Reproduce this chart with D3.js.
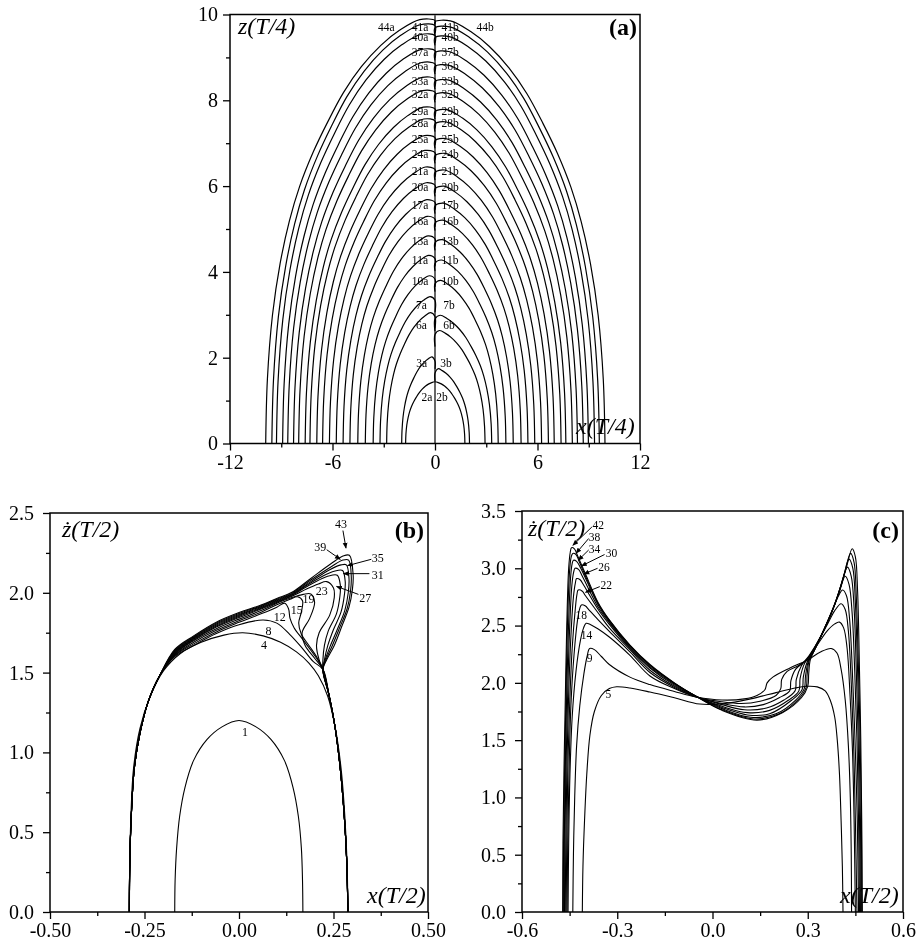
<!DOCTYPE html>
<html><head><meta charset="utf-8">
<script src="https://cdn.jsdelivr.net/npm/d3@7/dist/d3.min.js"></script>
<style>
body{margin:0;background:#fff;}
#chart{filter:grayscale(100%);}
text{font-family:"Liberation Serif","Times New Roman",serif;fill:#000;}
</style></head><body>
<svg id="chart" width="923" height="947" xmlns="http://www.w3.org/2000/svg"></svg>
<script>
// ---------------- Panel (a) data ----------------
const aXTicks = [-12, -6, 0, 6, 12];
const aXTickLabels = ["-12", "-6", "0", "6", "12"];
const aXMinor = [-9, -3, 3, 9];
const aYTicks = [0, 2, 4, 6, 8, 10];
const aYTickLabels = ["0", "2", "4", "6", "8", "10"];
const aYMinor = [1, 3, 5, 7, 9];
const aArchIds   = [2, 3, 6, 7, 10, 11, 13, 16, 17, 20, 21, 24, 25, 28, 29, 32, 33, 36, 37, 40, 41, 44];
const aBaseLeft  = [1.72, 1.95, 2.83, 3.22, 3.62, 4.08, 4.52, 4.98, 5.38, 5.78, 6.18, 6.58, 6.92, 7.32, 7.60, 7.98, 8.28, 8.62, 8.92, 9.28, 9.55, 9.91];
const aBaseRight = [1.75, 2.02, 2.93, 3.32, 3.70, 4.15, 4.58, 5.04, 5.44, 5.84, 6.24, 6.64, 6.98, 7.38, 7.66, 8.04, 8.34, 8.68, 8.98, 9.34, 9.62, 9.95];
const aTopLeft   = [1.44, 2.04, 3.08, 3.46, 3.95, 4.43, 4.89, 5.35, 5.74, 6.14, 6.51, 6.90, 7.25, 7.64, 7.92, 8.31, 8.62, 8.97, 9.28, 9.63, 9.86, 9.98];
const aTopRight  = [1.44, 1.76, 2.66, 3.02, 3.84, 4.32, 4.80, 5.26, 5.66, 6.06, 6.44, 6.83, 7.18, 7.57, 7.86, 8.25, 8.56, 8.91, 9.23, 9.58, 9.81, 9.95];
const aHook      = [0, 0.3, 0.4, 0.4, 0.3, 0.3, 0.3, 0.3, 0.3, 0.3, 0.3, 0.3, 0.3, 0.3, 0.3, 0.3, 0.3, 0.3, 0.3, 0.3, 0.3, 0.2];
// normalised arch profile (|x|/w, z/h)
const aProfileU = [1, 0.99, 0.96, 0.915, 0.86, 0.80, 0.72, 0.635, 0.54, 0.435, 0.32, 0.21, 0.09];
const aProfileV = [0, 0.15, 0.30, 0.42, 0.52, 0.60, 0.68, 0.75, 0.82, 0.88, 0.93, 0.965, 0.99];
const aLabelZ   = [1.09, 1.87, 2.77, 3.24, 3.78, 4.27, 4.73, 5.18, 5.57, 5.98, 6.35, 6.74, 7.09, 7.48, 7.75, 8.14, 8.45, 8.80, 9.12, 9.47, 9.71, 9.71];
const aLabelXL  = [-0.47, -0.78, -0.8, -0.8, -0.88, -0.88, -0.88, -0.88, -0.88, -0.88, -0.88, -0.88, -0.88, -0.88, -0.88, -0.88, -0.88, -0.88, -0.88, -0.88, -0.88, -2.85];
const aLabelXR  = [0.41, 0.65, 0.82, 0.82, 0.88, 0.88, 0.88, 0.88, 0.88, 0.88, 0.88, 0.88, 0.88, 0.88, 0.88, 0.88, 0.88, 0.88, 0.88, 0.88, 0.88, 2.93];

// ---------------- Panel (b) data ----------------
const bXTicks = [-0.5, -0.25, 0, 0.25, 0.5];
const bXTickLabels = ["-0.50", "-0.25", "0.00", "0.25", "0.50"];
const bXMinor = [-0.375, -0.125, 0.125, 0.375];
const bYTicks = [0, 0.5, 1.0, 1.5, 2.0, 2.5];
const bYTickLabels = ["0.0", "0.5", "1.0", "1.5", "2.0", "2.5"];
const bYMinor = [0.25, 0.75, 1.25, 1.75, 2.25];
const bLeftLeg  = [[-0.29,0],[-0.289,0.3],[-0.285,0.6],[-0.277,0.9],[-0.262,1.12],[-0.24,1.32],[-0.21,1.48]];
const bRightLeg = [[0.222,1.52],[0.238,1.36],[0.254,1.16],[0.267,0.92],[0.278,0.62],[0.285,0.32],[0.288,0]];
const b01 = [[-0.17,0],[-0.169,0.2],[-0.165,0.4],[-0.157,0.6],[-0.143,0.78],[-0.12,0.95],[-0.085,1.08],[-0.045,1.16],[0,1.2],[0.045,1.16],[0.085,1.08],[0.12,0.95],[0.143,0.78],[0.157,0.6],[0.165,0.4],[0.168,0.2],[0.169,0]];
const b04 = [[-0.29,0],[-0.289,0.3],[-0.286,0.6],[-0.279,0.9],[-0.262,1.15],[-0.235,1.35],[-0.2,1.51],[-0.155,1.62],[-0.1,1.69],[-0.04,1.735],[0.01,1.75],[0.064,1.73],[0.11,1.69],[0.152,1.63],[0.185,1.56],[0.21,1.48],[0.235,1.35],[0.255,1.15],[0.27,0.9],[0.28,0.6],[0.286,0.3],[0.288,0]];
const b08 = [[-0.17,1.600],[-0.12,1.670],[-0.06,1.745],[0,1.800],[0.064,1.83],[0.1,1.81],[0.134,1.74],[0.165,1.66],[0.196,1.57]];
const b12 = [[-0.17,1.605],[-0.12,1.680],[-0.06,1.755],[0,1.815],[0.06,1.87],[0.1,1.91],[0.121,1.935],[0.131,1.9],[0.135,1.84],[0.146,1.78],[0.168,1.71],[0.19,1.64],[0.208,1.58]];
const b15 = [[-0.17,1.610],[-0.12,1.690],[-0.06,1.765],[0,1.825],[0.06,1.88],[0.1,1.925],[0.135,1.96],[0.155,1.975],[0.168,1.95],[0.165,1.88],[0.158,1.81],[0.165,1.74],[0.185,1.67],[0.205,1.6]];
const b19 = [[-0.17,1.615],[-0.12,1.700],[-0.06,1.775],[0,1.835],[0.06,1.89],[0.1,1.935],[0.14,1.97],[0.17,1.99],[0.19,1.993],[0.2,1.94],[0.187,1.84],[0.167,1.75],[0.175,1.67],[0.2,1.59]];
const b23 = [[-0.17,1.620],[-0.12,1.705],[-0.06,1.785],[0,1.845],[0.06,1.9],[0.1,1.94],[0.14,1.978],[0.18,2.025],[0.21,2.055],[0.232,2.07],[0.25,2.03],[0.252,1.97],[0.24,1.86],[0.212,1.75],[0.205,1.67],[0.212,1.58]];
const b27 = [[-0.17,1.625],[-0.12,1.710],[-0.06,1.792],[0,1.852],[0.06,1.905],[0.1,1.945],[0.14,1.983],[0.18,2.04],[0.22,2.09],[0.245,2.11],[0.26,2.11],[0.268,2.05],[0.267,1.98],[0.258,1.87],[0.236,1.76],[0.226,1.67],[0.222,1.58]];
const b31 = [[-0.17,1.630],[-0.12,1.715],[-0.06,1.798],[0,1.858],[0.06,1.91],[0.1,1.95],[0.14,1.988],[0.185,2.055],[0.23,2.115],[0.26,2.14],[0.274,2.14],[0.281,2.07],[0.279,1.99],[0.27,1.88],[0.25,1.77],[0.235,1.67],[0.226,1.58]];
const b35 = [[-0.17,1.635],[-0.12,1.720],[-0.06,1.804],[0,1.864],[0.06,1.915],[0.1,1.955],[0.14,1.993],[0.19,2.07],[0.24,2.145],[0.27,2.175],[0.284,2.175],[0.291,2.09],[0.289,2.0],[0.28,1.89],[0.26,1.77],[0.242,1.67],[0.228,1.58]];
const b39 = [[-0.17,1.640],[-0.12,1.725],[-0.06,1.810],[0,1.870],[0.06,1.92],[0.1,1.96],[0.14,1.998],[0.19,2.08],[0.245,2.165],[0.275,2.205],[0.29,2.205],[0.297,2.1],[0.295,2.01],[0.286,1.9],[0.266,1.78],[0.247,1.67],[0.23,1.58]];
const b43 = [[-0.17,1.645],[-0.12,1.730],[-0.06,1.816],[0,1.876],[0.06,1.925],[0.1,1.965],[0.14,2.003],[0.19,2.09],[0.245,2.185],[0.275,2.23],[0.292,2.235],[0.302,2.11],[0.3,2.02],[0.291,1.91],[0.272,1.79],[0.252,1.67],[0.232,1.58]];
const bLabels = [["1",0.016,1.13],["4",0.066,1.67],["8",0.078,1.76],["12",0.108,1.85],["15",0.153,1.89],["19",0.184,1.96],["23",0.219,2.01]];
const bArrowLabels = [["27",0.334,1.97,0.316,1.99,0.258,2.04],["31",0.367,2.11,0.345,2.12,0.276,2.12],["35",0.367,2.22,0.35,2.21,0.287,2.17],["39",0.215,2.29,0.232,2.27,0.268,2.21],["43",0.27,2.43,0.275,2.39,0.283,2.28]];

// ---------------- Panel (c) data ----------------
const cXTicks = [-0.6, -0.3, 0, 0.3, 0.6];
const cXTickLabels = ["-0.6", "-0.3", "0.0", "0.3", "0.6"];
const cXMinor = [-0.45, -0.15, 0.15, 0.45];
const cYTicks = [0, 0.5, 1.0, 1.5, 2.0, 2.5, 3.0, 3.5];
const cYTickLabels = ["0.0", "0.5", "1.0", "1.5", "2.0", "2.5", "3.0", "3.5"];
const cYMinor = [0.25, 0.75, 1.25, 1.75, 2.25, 2.75, 3.25];
const c05 = [[-0.41,0],[-0.408,0.4],[-0.403,0.8],[-0.396,1.2],[-0.386,1.545],[-0.372,1.75],[-0.35,1.89],[-0.325,1.95],[-0.302,1.966],[-0.26,1.955],[-0.197,1.92],[-0.12,1.87],[-0.04,1.815],[0.04,1.82],[0.12,1.86],[0.2,1.915],[0.26,1.955],[0.296,1.97],[0.33,1.965],[0.355,1.93],[0.372,1.84],[0.385,1.7],[0.393,1.5],[0.4,1.2],[0.405,0.8],[0.409,0.4],[0.411,0]];
const c09 = [[-0.44,0],[-0.438,0.5],[-0.434,1.0],[-0.428,1.45],[-0.418,1.8],[-0.405,2.08],[-0.395,2.23],[-0.387,2.30],[-0.372,2.29],[-0.35,2.23],[-0.325,2.16],[-0.26,2.05],[-0.197,1.985],[-0.12,1.925],[-0.05,1.876],[0.03,1.85],[0.1,1.86],[0.14,1.89],[0.165,1.94],[0.172,2.0],[0.19,2.05],[0.244,2.13],[0.3,2.2],[0.34,2.27],[0.374,2.30],[0.392,2.26],[0.405,2.12],[0.418,1.85],[0.428,1.45],[0.434,1.0],[0.437,0.5],[0.438,0]];
const c14 = [[-0.455,0],[-0.453,0.6],[-0.449,1.2],[-0.442,1.7],[-0.43,2.1],[-0.416,2.37],[-0.406,2.48],[-0.398,2.52],[-0.385,2.51],[-0.36,2.47],[-0.325,2.40],[-0.26,2.24],[-0.197,2.06],[-0.12,1.95],[-0.05,1.875],[0.03,1.835],[0.09,1.82],[0.15,1.84],[0.2,1.89],[0.215,1.95],[0.218,2.03],[0.235,2.1],[0.27,2.15],[0.3,2.21],[0.33,2.33],[0.36,2.45],[0.385,2.515],[0.40,2.53],[0.413,2.48],[0.424,2.3],[0.433,1.9],[0.441,1.4],[0.446,0.8],[0.45,0]];
const c18 = [[-0.458,0],[-0.456,0.6],[-0.452,1.2],[-0.446,1.8],[-0.436,2.25],[-0.425,2.55],[-0.418,2.65],[-0.413,2.68],[-0.4,2.67],[-0.39,2.64],[-0.36,2.55],[-0.325,2.45],[-0.26,2.27],[-0.197,2.09],[-0.12,1.96],[-0.05,1.877],[0.03,1.82],[0.1,1.79],[0.16,1.81],[0.21,1.87],[0.243,1.93],[0.247,2.02],[0.262,2.12],[0.296,2.2],[0.33,2.35],[0.36,2.5],[0.385,2.63],[0.405,2.69],[0.418,2.64],[0.428,2.45],[0.437,2.0],[0.445,1.4],[0.45,0.8],[0.455,0]];
const c22 = [[-0.461,0],[-0.459,0.6],[-0.456,1.2],[-0.45,1.8],[-0.442,2.3],[-0.432,2.65],[-0.427,2.77],[-0.423,2.81],[-0.41,2.8],[-0.4,2.76],[-0.36,2.61],[-0.325,2.48],[-0.26,2.29],[-0.197,2.11],[-0.12,1.97],[-0.05,1.878],[0.03,1.81],[0.1,1.765],[0.17,1.78],[0.225,1.85],[0.26,1.93],[0.264,2.03],[0.28,2.15],[0.305,2.24],[0.34,2.4],[0.37,2.58],[0.395,2.75],[0.41,2.81],[0.422,2.76],[0.432,2.55],[0.442,2.0],[0.45,1.4],[0.456,0.8],[0.46,0]];
const c26 = [[-0.464,0],[-0.462,0.6],[-0.459,1.2],[-0.454,1.8],[-0.447,2.35],[-0.438,2.75],[-0.432,2.87],[-0.428,2.91],[-0.417,2.9],[-0.405,2.85],[-0.36,2.64],[-0.325,2.51],[-0.26,2.30],[-0.197,2.13],[-0.12,1.98],[-0.05,1.879],[0.03,1.795],[0.11,1.74],[0.18,1.76],[0.24,1.85],[0.272,1.93],[0.276,2.04],[0.29,2.17],[0.31,2.25],[0.345,2.43],[0.375,2.62],[0.4,2.8],[0.418,2.93],[0.43,2.86],[0.44,2.6],[0.448,2.1],[0.455,1.5],[0.46,0.8],[0.463,0]];
const c30 = [[-0.466,0],[-0.465,0.6],[-0.462,1.2],[-0.457,1.8],[-0.451,2.4],[-0.443,2.85],[-0.437,2.97],[-0.433,3.0],[-0.422,2.99],[-0.41,2.93],[-0.36,2.66],[-0.325,2.525],[-0.26,2.31],[-0.197,2.14],[-0.12,1.99],[-0.05,1.88],[0.03,1.785],[0.11,1.72],[0.18,1.73],[0.25,1.85],[0.282,1.94],[0.286,2.05],[0.298,2.18],[0.315,2.26],[0.35,2.46],[0.38,2.65],[0.405,2.85],[0.425,3.01],[0.437,2.93],[0.446,2.65],[0.453,2.1],[0.459,1.5],[0.463,0.8],[0.466,0]];
const c34 = [[-0.468,0],[-0.467,0.6],[-0.464,1.2],[-0.46,1.8],[-0.454,2.45],[-0.447,2.92],[-0.442,3.04],[-0.438,3.07],[-0.428,3.06],[-0.415,3.0],[-0.36,2.68],[-0.325,2.535],[-0.26,2.32],[-0.197,2.15],[-0.12,1.995],[-0.05,1.88],[0.03,1.775],[0.12,1.70],[0.2,1.73],[0.262,1.85],[0.289,1.95],[0.293,2.06],[0.302,2.19],[0.318,2.27],[0.352,2.47],[0.383,2.67],[0.41,2.9],[0.43,3.08],[0.442,3.0],[0.45,2.7],[0.457,2.1],[0.462,1.5],[0.466,0.8],[0.468,0]];
const c38 = [[-0.47,0],[-0.469,0.6],[-0.466,1.2],[-0.462,1.8],[-0.457,2.5],[-0.45,2.98],[-0.445,3.1],[-0.44,3.13],[-0.43,3.12],[-0.42,3.06],[-0.36,2.69],[-0.325,2.545],[-0.26,2.325],[-0.197,2.155],[-0.12,1.998],[-0.05,1.88],[0.03,1.765],[0.13,1.685],[0.21,1.73],[0.272,1.86],[0.295,1.96],[0.298,2.07],[0.305,2.2],[0.32,2.28],[0.354,2.48],[0.386,2.69],[0.415,2.95],[0.435,3.13],[0.446,3.05],[0.453,2.75],[0.46,2.1],[0.465,1.5],[0.469,0.8],[0.47,0]];
const c42 = [[-0.472,0],[-0.471,0.6],[-0.468,1.2],[-0.464,1.8],[-0.459,2.5],[-0.453,3.0],[-0.448,3.14],[-0.444,3.18],[-0.435,3.17],[-0.425,3.11],[-0.4,2.95],[-0.36,2.70],[-0.325,2.55],[-0.26,2.33],[-0.197,2.16],[-0.12,2.0],[-0.05,1.88],[0.03,1.76],[0.14,1.675],[0.22,1.74],[0.28,1.87],[0.3,1.97],[0.303,2.08],[0.308,2.2],[0.322,2.29],[0.356,2.49],[0.39,2.72],[0.42,2.99],[0.44,3.17],[0.45,3.1],[0.457,2.8],[0.463,2.1],[0.467,1.5],[0.47,0.8],[0.472,0]];
const cLabels = [["5",-0.328,1.90],["9",-0.387,2.22],["14",-0.397,2.42],["18",-0.413,2.59]];
const cLeaderLabels = [["22",-0.335,2.85,-0.355,2.84,-0.40,2.79],["26",-0.342,3.01,-0.362,3.0,-0.405,2.95],["30",-0.318,3.13,-0.34,3.12,-0.413,3.02],["34",-0.372,3.17,-0.39,3.16,-0.423,3.07],["38",-0.372,3.27,-0.39,3.26,-0.43,3.13],["42",-0.36,3.38,-0.38,3.36,-0.44,3.2]];

// ---------------- drawing ----------------
const svg = d3.select("#chart");
const FONT = "'Liberation Serif','Times New Roman',serif";

function makePanel(o) {
  const x = d3.scaleLinear().domain(o.xd).range([o.l, o.r]);
  const y = d3.scaleLinear().domain(o.yd).range([o.b, o.t]);
  const g = svg.append("g");
  const ax = g.append("g").attr("transform", `translate(0,${o.b})`)
    .call(d3.axisBottom(x).tickValues(o.xt).tickFormat((d, i) => o.xl[i]).tickSize(7).tickPadding(4));
  const axm = g.append("g").attr("transform", `translate(0,${o.b})`)
    .call(d3.axisBottom(x).tickValues(o.xm).tickFormat("").tickSize(4));
  const ay = g.append("g").attr("transform", `translate(${o.l},0)`)
    .call(d3.axisLeft(y).tickValues(o.yt).tickFormat((d, i) => o.yl[i]).tickSize(7).tickPadding(o.yp));
  const aym = g.append("g").attr("transform", `translate(${o.l},0)`)
    .call(d3.axisLeft(y).tickValues(o.ym).tickFormat("").tickSize(4));
  [ax, axm, ay, aym].forEach(a => {
    a.select(".domain").remove();
    a.attr("font-family", FONT).attr("font-size", 20);
    a.selectAll("line").attr("stroke", "#000").attr("stroke-width", 1.3);
    a.selectAll("text").attr("fill", "#000");
  });
  g.append("rect").attr("x", o.l).attr("y", o.t).attr("width", o.r - o.l).attr("height", o.b - o.t)
    .attr("fill", "none").attr("stroke", "#000").attr("stroke-width", 1.5);
  return {x, y, g};
}

const lineStyle = (sel, w) => sel.attr("fill", "none").attr("stroke", "#000").attr("stroke-width", w).attr("stroke-linejoin", "round");

// ----- Panel (a)
const A = makePanel({l: 230, r: 640, t: 14.5, b: 443.5, xd: [-12, 12], yd: [0, 10],
  xt: aXTicks, xl: aXTickLabels, xm: aXMinor, yt: aYTicks, yl: aYTickLabels, ym: aYMinor, yp: 5});
const lineA = d3.line().x(d => A.x(d[0])).y(d => A.y(d[1])).curve(d3.curveCatmullRom.alpha(0.5));
aArchIds.forEach((id, i) => {
  const left = aProfileU.map((u, k) => [-u * aBaseLeft[i], aProfileV[k] * aTopLeft[i]]);
  const right = aProfileU.map((u, k) => [u * aBaseRight[i], aProfileV[k] * aTopRight[i]]).reverse();
  if (aHook[i] > 0) {
    left.push([0, aTopLeft[i] - 0.12], [0, aTopLeft[i] - aHook[i]]);
    right.unshift([0, aTopRight[i] - aHook[i]], [0, aTopRight[i] - 0.12]);
  } else {
    left.push([0, aTopLeft[i]]);
    right.unshift([0, aTopRight[i]]);
  }
  lineStyle(A.g.append("path").attr("d", lineA(left)), 1.2);
  lineStyle(A.g.append("path").attr("d", lineA(right)), 1.2);
  A.g.append("text").attr("x", A.x(aLabelXL[i])).attr("y", A.y(aLabelZ[i])).attr("text-anchor", "middle")
    .attr("dominant-baseline", "central").attr("font-size", 11.5).text(id + "a");
  A.g.append("text").attr("x", A.x(aLabelXR[i])).attr("y", A.y(aLabelZ[i])).attr("text-anchor", "middle")
    .attr("dominant-baseline", "central").attr("font-size", 11.5).text(id + "b");
});
lineStyle(A.g.append("path").attr("d", d3.line()([[A.x(0), A.y(0)], [A.x(0), A.y(9.98)]])), 1.2);
A.g.append("text").attr("x", 238).attr("y", 34).attr("font-size", 24).attr("font-style", "italic").text("z(T/4)");
A.g.append("text").attr("x", 576).attr("y", 434).attr("font-size", 24).attr("font-style", "italic").text("x(T/4)");
A.g.append("text").attr("x", 637).attr("y", 35).attr("text-anchor", "end").attr("font-size", 24).attr("font-weight", "bold").text("(a)");

// arrow marker
const defs = svg.append("defs");
defs.append("marker").attr("id", "arr").attr("viewBox", "0 0 10 10").attr("refX", 9).attr("refY", 5)
  .attr("markerWidth", 6).attr("markerHeight", 6).attr("orient", "auto-start-reverse")
  .append("path").attr("d", "M0,1L10,5L0,9z").attr("fill", "#000");

// ----- Panel (b)
const B = makePanel({l: 50, r: 428, t: 513, b: 912, xd: [-0.5, 0.5], yd: [0, 2.5],
  xt: bXTicks, xl: bXTickLabels, xm: bXMinor, yt: bYTicks, yl: bYTickLabels, ym: bYMinor, yp: 9});
const lineB = d3.line().x(d => B.x(d[0])).y(d => B.y(d[1])).curve(d3.curveCatmullRom.alpha(0.5));
[b01, b04].forEach(c => lineStyle(B.g.append("path").attr("d", lineB(c)), 1.1));
[b08, b12, b15, b19, b23, b27, b31, b35, b39, b43].forEach(c =>
  lineStyle(B.g.append("path").attr("d", lineB(bLeftLeg.concat(c, bRightLeg))), 1.1));
bLabels.forEach(l => B.g.append("text").attr("x", B.x(l[1])).attr("y", B.y(l[2])).attr("text-anchor", "middle")
  .attr("dominant-baseline", "central").attr("font-size", 12).text(l[0]));
bArrowLabels.forEach(l => {
  B.g.append("text").attr("x", B.x(l[1])).attr("y", B.y(l[2])).attr("text-anchor", "middle")
    .attr("dominant-baseline", "central").attr("font-size", 12).text(l[0]);
  B.g.append("line").attr("x1", B.x(l[3])).attr("y1", B.y(l[4])).attr("x2", B.x(l[5])).attr("y2", B.y(l[6]))
    .attr("stroke", "#000").attr("stroke-width", 1).attr("marker-end", "url(#arr)");
});
B.g.append("text").attr("x", 62).attr("y", 537).attr("font-size", 24).attr("font-style", "italic").text("ż(T/2)");
B.g.append("text").attr("x", 367).attr("y", 903).attr("font-size", 24).attr("font-style", "italic").text("x(T/2)");
B.g.append("text").attr("x", 424).attr("y", 538).attr("text-anchor", "end").attr("font-size", 24).attr("font-weight", "bold").text("(b)");

// ----- Panel (c)
const C = makePanel({l: 522, r: 903, t: 511, b: 912, xd: [-0.6, 0.6], yd: [0, 3.5],
  xt: cXTicks, xl: cXTickLabels, xm: cXMinor, yt: cYTicks, yl: cYTickLabels, ym: cYMinor, yp: 9});
const lineC = d3.line().x(d => C.x(d[0])).y(d => C.y(d[1])).curve(d3.curveCatmullRom.alpha(0.5));
[c05, c09, c14, c18, c22, c26, c30, c34, c38, c42].forEach(c => lineStyle(C.g.append("path").attr("d", lineC(c)), 1.1));
cLabels.forEach(l => C.g.append("text").attr("x", C.x(l[1])).attr("y", C.y(l[2])).attr("text-anchor", "middle")
  .attr("dominant-baseline", "central").attr("font-size", 11.5).text(l[0]));
cLeaderLabels.forEach(l => {
  C.g.append("text").attr("x", C.x(l[1])).attr("y", C.y(l[2])).attr("text-anchor", "middle")
    .attr("dominant-baseline", "central").attr("font-size", 11.5).text(l[0]);
  C.g.append("line").attr("x1", C.x(l[3])).attr("y1", C.y(l[4])).attr("x2", C.x(l[5])).attr("y2", C.y(l[6]))
    .attr("stroke", "#000").attr("stroke-width", 1).attr("marker-end", "url(#arr)");
});
C.g.append("text").attr("x", 528).attr("y", 536).attr("font-size", 24).attr("font-style", "italic").text("ż(T/2)");
C.g.append("text").attr("x", 840).attr("y", 903).attr("font-size", 24).attr("font-style", "italic").text("x(T/2)");
C.g.append("text").attr("x", 899).attr("y", 538).attr("text-anchor", "end").attr("font-size", 24).attr("font-weight", "bold").text("(c)");
</script></body></html>
